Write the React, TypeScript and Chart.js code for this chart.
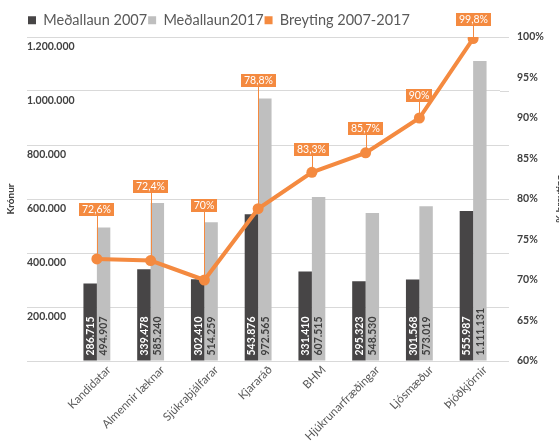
import React, { useEffect, useRef } from 'react';
import { Chart, registerables } from 'chart.js';

Chart.register(...registerables);

// ---- data ----
const categories = [
  'Kandidatar',
  'Almennir læknar',
  'Sjúkraþjálfarar',
  'Kjararáð',
  'BHM',
  'Hjúkrunarfræðingar',
  'Ljósmæður',
  'Þjóðkjörnir',
];
const laun2007 = [286715, 339478, 302410, 543876, 331410, 295323, 301568, 555987];
const laun2017 = [494907, 585240, 514259, 972565, 607515, 548530, 573019, 1111131];
const breyting = [72.6, 72.4, 70, 78.8, 83.3, 85.7, 90, 99.8];
const seriesNames = ['Meðallaun 2007', 'Meðallaun2017', 'Breyting 2007-2017'];
const leftAxisTitle = 'Krónur';
const rightAxisTitle = '% breyting';

// ---- styles ----
const DARK = '#474546';
const GRAY = '#bfbfbf';
const ORANGE = '#f48a40';
const GRID = '#d9d9d9';
const TEXT_DARK = '#404040';
const TEXT_MID = '#595959';
const FONT = 'Lato';
// how far (px) each callout box sits above its point
const calloutRise = [49, 74, 75, 128, 23, 24, 23, 19];

const fmtKr = (v: number) =>
  Math.round(v).toString().replace(/\B(?=(\d{3})+(?!\d))/g, '.');
const fmtPct = (v: number) => v.toString().replace('.', ',') + '%';

const annotatePlugin = {
  id: 'annotate',
  afterInit(chart: any) {
    const lg = chart.legend;
    if (lg) {
      const orig = lg.fit;
      lg.fit = function () {
        orig.call(this);
        this.height = 25;
      };
    }
  },
  beforeDatasetsDraw(chart: any) {
    const { ctx, chartArea, scales } = chart;
    const y = scales.y;
    ctx.save();
    ctx.strokeStyle = GRID;
    ctx.lineWidth = 1;
    y.ticks.forEach((_t: any, i: number) => {
      const py = Math.round(y.getPixelForTick(i)) + 0.5;
      ctx.beginPath();
      ctx.moveTo(chartArea.right, py);
      ctx.lineTo(chartArea.right + 9, py);
      ctx.stroke();
    });
    ctx.restore();
  },
  afterDatasetsDraw(chart: any) {
    const { ctx } = chart;
    ctx.save();
    // bar value labels
    [0, 1].forEach((di) => {
      const meta = chart.getDatasetMeta(di);
      const vals = chart.data.datasets[di].data as number[];
      ctx.font = `bold 10.5px ${FONT}`;
      ctx.fillStyle = di === 0 ? '#ffffff' : TEXT_DARK;
      ctx.textAlign = 'left';
      ctx.textBaseline = 'middle';
      meta.data.forEach((el: any, i: number) => {
        ctx.save();
        ctx.translate(el.x, el.base - 5);
        ctx.rotate(-Math.PI / 2);
        ctx.fillText(fmtKr(vals[i]), 0, 0.5);
        ctx.restore();
      });
    });
    // line callouts
    const lmeta = chart.getDatasetMeta(2);
    const lvals = chart.data.datasets[2].data as number[];
    ctx.font = `10.5px ${FONT}`;
    lmeta.data.forEach((pt: any, i: number) => {
      const txt = fmtPct(lvals[i]);
      const w = Math.ceil(ctx.measureText(txt).width) + 5;
      const h = 13;
      const cy = pt.y - calloutRise[i];
      const bx = Math.round(pt.x - w / 2);
      const by = Math.round(cy - h / 2);
      ctx.strokeStyle = ORANGE;
      ctx.lineWidth = 1;
      ctx.beginPath();
      ctx.moveTo(Math.round(pt.x) + 0.5, by + h);
      ctx.lineTo(Math.round(pt.x) + 0.5, pt.y);
      ctx.stroke();
      ctx.fillStyle = ORANGE;
      ctx.fillRect(bx, by, w, h);
      ctx.fillStyle = '#ffffff';
      ctx.textAlign = 'center';
      ctx.textBaseline = 'middle';
      ctx.fillText(txt, bx + w / 2, by + h / 2 + 0.5);
    });
    ctx.restore();
  },
  afterDraw(chart: any) {
    const { ctx, chartArea } = chart;
    const cy = (chartArea.top + chartArea.bottom) / 2;
    ctx.save();
    ctx.font = `bold 10px ${FONT}`;
    ctx.fillStyle = TEXT_DARK;
    ctx.textAlign = 'center';
    ctx.textBaseline = 'middle';
    ctx.translate(11, cy);
    ctx.rotate(-Math.PI / 2);
    ctx.fillText(leftAxisTitle, 0, 0);
    ctx.restore();
    ctx.save();
    ctx.font = `bold 10px ${FONT}`;
    ctx.fillStyle = TEXT_DARK;
    ctx.textAlign = 'center';
    ctx.textBaseline = 'middle';
    ctx.translate(560, cy);
    ctx.rotate(-Math.PI / 2);
    ctx.fillText(rightAxisTitle, 0, 0);
    ctx.restore();
  },
};

export default function App() {
  const ref = useRef<HTMLCanvasElement>(null);
  useEffect(() => {
    if (!ref.current) return;
    const barColors = [DARK, GRAY, ORANGE];
    const chart = new Chart(ref.current, {
      type: 'bar',
      data: {
        labels: categories,
        datasets: [
          {
            type: 'bar',
            label: seriesNames[0],
            data: laun2007,
            backgroundColor: DARK,
            yAxisID: 'y',
            order: 1,
            categoryPercentage: 0.5,
            barPercentage: 1,
          },
          {
            type: 'bar',
            label: seriesNames[1],
            data: laun2017,
            backgroundColor: GRAY,
            yAxisID: 'y',
            order: 1,
            categoryPercentage: 0.5,
            barPercentage: 1,
          },
          {
            type: 'line',
            label: seriesNames[2],
            data: breyting,
            borderColor: ORANGE,
            backgroundColor: ORANGE,
            borderWidth: 4,
            pointRadius: 5.5,
            pointBackgroundColor: ORANGE,
            pointBorderWidth: 0,
            yAxisID: 'y1',
            order: 0,
            tension: 0,
          } as any,
        ],
      },
      options: {
        responsive: false,
        animation: false,
        devicePixelRatio: 1,
        layout: { padding: { left: 27, right: 0, top: 12, bottom: 0 } },
        font: { family: FONT },
        plugins: {
          tooltip: { enabled: false },
          legend: {
            position: 'top',
            align: 'start',
            labels: {
              boxWidth: 8,
              boxHeight: 8,
              padding: 1,
              color: TEXT_MID,
              font: { family: FONT, size: 14.5 },
              sort: (a: any, b: any) => a.datasetIndex - b.datasetIndex,
              generateLabels: (ch: any) =>
                ch.data.datasets.map((ds: any, i: number) => ({
                  text: ds.label,
                  fillStyle: barColors[i],
                  strokeStyle: barColors[i],
                  lineWidth: 0,
                  hidden: false,
                  datasetIndex: i,
                  fontColor: TEXT_MID,
                })),
            },
          },
        },
        scales: {
          x: {
            grid: { display: false, drawTicks: false },
            border: { display: false },
            ticks: {
              autoSkip: false,
              minRotation: 45,
              maxRotation: 45,
              labelOffset: 12,
              padding: 2,
              color: TEXT_MID,
              font: { family: FONT, size: 11.5 },
            },
            afterFit: (s: any) => {
              s.height = 86;
            },
          },
          y: {
            position: 'left',
            min: 0,
            max: 1200000,
            border: { display: false },
            grid: {
              color: GRID,
              lineWidth: 1,
              drawTicks: true,
              tickLength: 43,
              tickColor: GRID,
            },
            ticks: {
              stepSize: 200000,
              mirror: true,
              crossAlign: 'near',
              padding: -43,
              labelOffset: 10,
              color: TEXT_DARK,
              font: { family: FONT, size: 10.5, weight: 'bold' },
              callback: (v: any) => (Number(v) === 0 ? '' : fmtKr(Number(v))),
            },
            afterFit: (s: any) => {
              s.width = 43;
            },
          },
          y1: {
            position: 'right',
            min: 60,
            max: 100,
            border: { display: false },
            grid: { display: false, drawTicks: false },
            ticks: {
              stepSize: 5,
              padding: 17,
              color: TEXT_DARK,
              font: { family: FONT, size: 10.5, weight: 'bold' },
              callback: (v: any) => v + '%',
            },
            afterFit: (s: any) => {
              s.width = 59;
            },
          },
        },
      } as any,
      plugins: [annotatePlugin],
    });
    return () => chart.destroy();
  }, []);
  return (
    <div
      style={{
        position: 'fixed',
        left: 0,
        top: 0,
        width: 559,
        height: 447,
        overflow: 'hidden',
        background: '#ffffff',
      }}
    >
      <canvas ref={ref} width={559} height={447} style={{ display: 'block' }} />
    </div>
  );
}
